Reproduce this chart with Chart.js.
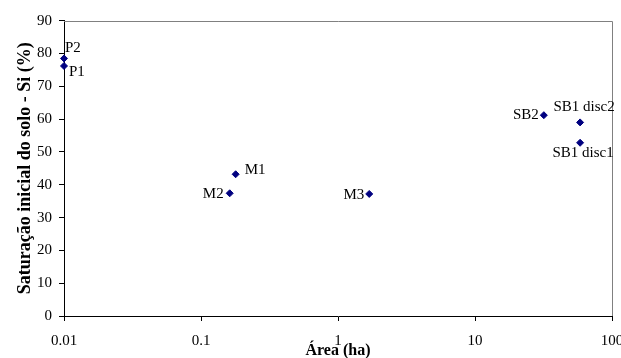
<!DOCTYPE html>
<html><head><meta charset="utf-8">
<script src="https://cdn.jsdelivr.net/npm/chart.js@4"></script>
<style>html,body{margin:0;padding:0;background:#fff}#wrap{width:621px;height:358px}</style>
</head><body><div id="wrap"><canvas id="c" width="621" height="358"></canvas></div>
<script>
// ---- data ----
const pointNames = ['P1', 'P2', 'M1', 'M2', 'M3', 'SB2', 'SB1 disc1', 'SB1 disc2'];
const areaHa     = [0.01, 0.01, 0.179, 0.162, 1.69, 31.8, 58.5, 58.5];
const saturacao  = [76.2, 78.5, 43.2, 37.4, 37.2, 61.2, 52.8, 59.0];
const xTicks = [0.01, 0.1, 1, 10, 100];
const yTicks = [0, 10, 20, 30, 40, 50, 60, 70, 80, 90];
const xTitle = 'Área (ha)';
const yTitle = 'Saturação inicial do solo - Si (%)';

// ---- label placement (style) ----
const labelPlacement = [
  {align: 'left',   dx: 5,  dy: 6},
  {align: 'left',   dx: 1,  dy: -10},
  {align: 'left',   dx: 9,  dy: -4},
  {align: 'right',  dx: -6, dy: 1},
  {align: 'right',  dx: -5, dy: 1},
  {align: 'right',  dx: -5, dy: 0},
  {align: 'center', dx: 3,  dy: 10},
  {align: 'center', dx: 4,  dy: -15}
];

const FONT = 'Liberation Serif';

const framePlugin = {
  id: 'frame',
  beforeDatasetsDraw(chart) {
    const {ctx, chartArea: a} = chart;
    ctx.save();
    ctx.strokeStyle = '#808080';
    ctx.lineWidth = 1;
    ctx.beginPath();
    ctx.moveTo(a.left, Math.round(a.top) + 0.5);
    ctx.lineTo(Math.round(a.right) + 0.5, Math.round(a.top) + 0.5);
    ctx.lineTo(Math.round(a.right) + 0.5, a.bottom);
    ctx.stroke();
    ctx.restore();
  }
};

const labelPlugin = {
  id: 'pointLabels',
  afterDatasetsDraw(chart) {
    const {ctx} = chart;
    const meta = chart.getDatasetMeta(0);
    ctx.save();
    ctx.font = '15px "' + FONT + '"';
    ctx.fillStyle = '#000';
    ctx.textBaseline = 'middle';
    meta.data.forEach((el, i) => {
      const p = labelPlacement[i];
      ctx.textAlign = p.align;
      ctx.fillText(pointNames[i], el.x + p.dx, el.y + p.dy);
    });
    ctx.restore();
  }
};

new Chart(document.getElementById('c'), {
  type: 'scatter',
  data: {
    datasets: [{
      data: areaHa.map((x, i) => ({x: x, y: saturacao[i]})),
      pointStyle: 'rectRot',
      pointRadius: 3.5,
      pointHoverRadius: 3.5,
      borderWidth: 1,
      backgroundColor: '#000080',
      borderColor: '#000080',
      clip: false
    }]
  },
  options: {
    responsive: false,
    animation: false,
    events: [],
    layout: {padding: {left: 0, top: 20.7, right: 9, bottom: 0}, autoPadding: false},
    plugins: {legend: {display: false}, tooltip: {enabled: false}},
    scales: {
      x: {
        type: 'logarithmic',
        min: 0.01, max: 100,
        afterBuildTicks: s => { s.ticks = xTicks.map(v => ({value: v})); },
        afterFit: s => { s.height = 42; s.paddingLeft = 0; s.paddingRight = 0; },
        ticks: {
          autoSkip: false, maxRotation: 0, padding: 11,
          color: '#000', font: {family: FONT, size: 15},
          callback: v => String(v)
        },
        grid: {drawOnChartArea: false, drawTicks: true, tickLength: 5, color: '#000'},
        border: {display: true, color: '#000', width: 1},
        title: {display: true, text: xTitle, color: '#000', padding: {top: 0, bottom: -2},
                font: {family: FONT, size: 16, weight: 'bold'}}
      },
      y: {
        min: 0, max: 90,
        afterBuildTicks: s => { s.ticks = yTicks.map(v => ({value: v})); },
        afterFit: s => { s.width = 64; s.paddingTop = 0; s.paddingBottom = 0; },
        ticks: {padding: 7, color: '#000', font: {family: FONT, size: 15}},
        grid: {drawOnChartArea: false, drawTicks: true, tickLength: 5, color: '#000'},
        border: {display: true, color: '#000', width: 1},
        title: {display: true, text: yTitle, color: '#000', padding: {top: 15, bottom: 0},
                font: {family: FONT, size: 18, weight: 'bold'}}
      }
    }
  },
  plugins: [framePlugin, labelPlugin]
});
</script>
</body></html>
